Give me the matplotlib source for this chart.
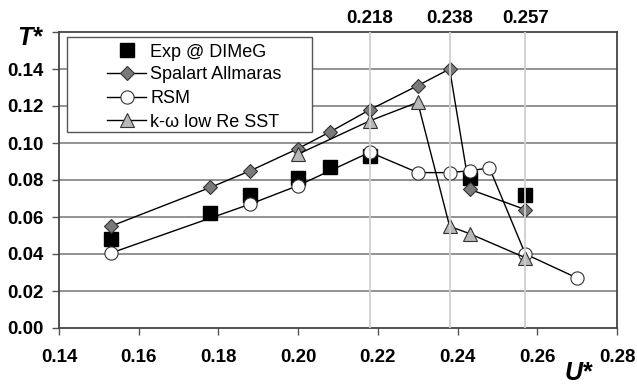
import matplotlib
matplotlib.use("Agg")
import matplotlib.pyplot as plt
from matplotlib.patches import Rectangle
from matplotlib.lines import Line2D

plt.rcParams["font.family"] = ["Liberation Sans", "DejaVu Sans"]

# Experimental data
exp_u = [0.153, 0.178, 0.188, 0.200, 0.208, 0.218, 0.243, 0.257]
exp_t = [0.048, 0.062, 0.072, 0.081, 0.087, 0.093, 0.081, 0.072]

# Spalart Allmaras
sa_u = [0.153, 0.178, 0.188, 0.200, 0.208, 0.218, 0.230, 0.238, 0.243, 0.257]
sa_t = [0.055, 0.076, 0.085, 0.097, 0.106, 0.118, 0.131, 0.140, 0.075, 0.064]

# RSM
rsm_u = [0.153, 0.188, 0.200, 0.218, 0.230, 0.238, 0.243, 0.248, 0.257, 0.270]
rsm_t = [0.0405, 0.067, 0.077, 0.095, 0.084, 0.084, 0.085, 0.0865, 0.040, 0.027]

# k-omega low Re SST
kw_u = [0.200, 0.218, 0.230, 0.238, 0.243, 0.257]
kw_t = [0.094, 0.112, 0.122, 0.055, 0.051, 0.038]

# Reference velocities marked with vertical lines
ref_u = [0.218, 0.238, 0.257]
ref_labels = ["0.218", "0.238", "0.257"]

series_labels = ["Exp @ DIMeG", "Spalart Allmaras", "RSM", "k-\u03c9 low Re SST"]

x_ticks = [0.14, 0.16, 0.18, 0.20, 0.22, 0.24, 0.26, 0.28]
y_ticks = [0.00, 0.02, 0.04, 0.06, 0.08, 0.10, 0.12, 0.14, 0.16]

W, H = 637, 387
AX_L, AX_R, AX_T, AX_B = 59, 617, 32, 328
AX_W, AX_H = AX_R - AX_L, AX_B - AX_T


def fx(px):
    return px / W


def fy(py):
    return 1 - py / H


fig = plt.figure(figsize=(W / 100, H / 100), dpi=100)
ax = fig.add_axes([fx(AX_L), fy(AX_B), AX_W / W, AX_H / H])

ax.set_xlim(0.14, 0.28)
ax.set_ylim(0.0, 0.16)

for y in y_ticks[1:-1]:
    ax.axhline(y, color="#8a8a8a", lw=1.3, zorder=1)

edge = "#333333"
styles = [
    dict(ls="none", marker="s", ms=10, mfc="black", mec="black"),
    dict(color="black", lw=1.0, marker="D", ms=7.5, mfc="#7a7a7a", mec=edge, mew=0.8),
    dict(color="black", lw=1.0, marker="o", ms=9.5, mfc="white", mec=edge, mew=0.8),
    dict(color="black", lw=1.0, marker="^", ms=10.5, mfc="#b8b8b8", mec=edge, mew=0.8),
]
data = [(exp_u, exp_t), (sa_u, sa_t), (rsm_u, rsm_t), (kw_u, kw_t)]
for i, ((u, t), st) in enumerate(zip(data, styles)):
    ax.plot(u, t, zorder=3 + i, **st)

for u, lab in zip(ref_u, ref_labels):
    ax.axvline(u, color="#cfcfcf", lw=1.3, zorder=7)
    ax.text(u, 0.1625, lab, ha="center", va="bottom", fontsize=13.5,
            fontweight="bold", clip_on=False)

ax.set_xticks(x_ticks)
ax.set_xticklabels([f"{v:.2f}" for v in x_ticks])
ax.set_yticks(y_ticks)
ax.set_yticklabels([f"{v:.2f}" for v in y_ticks[:-1]] + [""])
ax.tick_params(axis="both", direction="out", length=5, width=1, color="#555555",
               labelsize=13.5, pad=6)
ax.tick_params(axis="x", pad=10)
for lab in ax.get_xticklabels() + ax.get_yticklabels():
    lab.set_fontweight("bold")

for s in ax.spines.values():
    s.set_color("#444444")
    s.set_linewidth(1.3)

fig.text(fx(30), fy(38), "T*", ha="center", va="center", fontsize=18,
         fontweight="bold", fontstyle="italic")
fig.text(fx(578), fy(373), "U*", ha="center", va="center", fontsize=18,
         fontweight="bold", fontstyle="italic")

# Legend box with line/marker samples and labels
fig.add_artist(Rectangle((fx(67), fy(132)), (312 - 67) / W, (132 - 37) / H,
                         transform=fig.transFigure, facecolor="white",
                         edgecolor="#555555", lw=1.0, zorder=20))
row_y = [50, 72.5, 96.5, 120]
for i, (lab, st, ry) in enumerate(zip(series_labels, styles, row_y)):
    if i > 0:
        fig.add_artist(Line2D([fx(107), fx(146)], [fy(ry), fy(ry)],
                              transform=fig.transFigure, color="black",
                              lw=1.0, zorder=21))
    mst = {k: v for k, v in st.items() if k not in ("ls", "lw", "color")}
    fig.add_artist(Line2D([fx(126.5)], [fy(ry)], transform=fig.transFigure,
                          ls="none", zorder=22, **mst))
    fig.text(fx(150), fy(ry + 6.7), lab, ha="left", va="baseline",
             fontsize=13, zorder=23)

fig.savefig("out.png", dpi=100)
